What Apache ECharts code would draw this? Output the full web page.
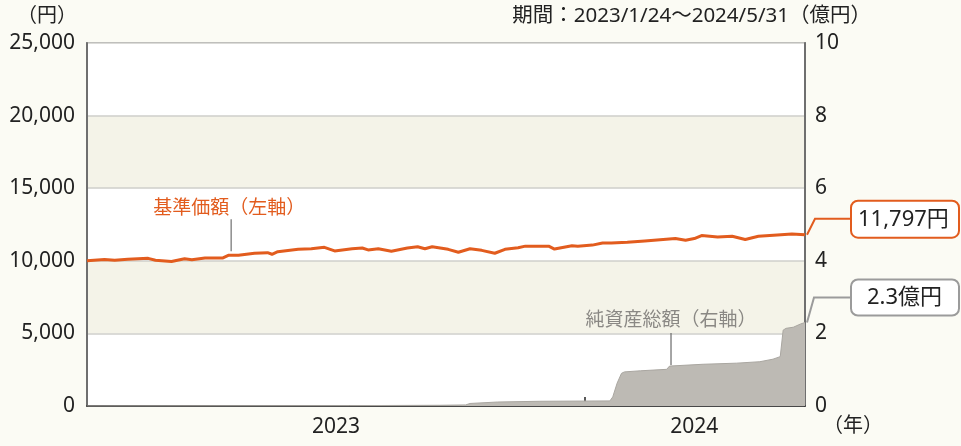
<!DOCTYPE html>
<html>
<head>
<meta charset="utf-8">
<script src="https://cdn.jsdelivr.net/npm/echarts@6/dist/echarts.min.js"></script>
<style>
  html, body { margin: 0; padding: 0; background: #fbfbf4; }
  #chart { width: 961px; height: 446px; }
</style>
</head>
<body>
<div id="chart"></div>
<script>
// 基準価額（円）
const navDates = [
  "2023-01-24", "2023-02-05", "2023-02-12", "2023-02-21", "2023-03-07", "2023-03-12",
  "2023-03-23", "2023-04-01", "2023-04-06", "2023-04-15", "2023-04-27", "2023-05-01",
  "2023-05-08", "2023-05-19", "2023-05-28", "2023-05-31", "2023-06-04", "2023-06-18",
  "2023-06-27", "2023-07-06", "2023-07-13", "2023-07-25", "2023-08-01", "2023-08-05",
  "2023-08-12", "2023-08-21", "2023-09-01", "2023-09-08", "2023-09-13", "2023-09-18",
  "2023-09-29", "2023-10-06", "2023-10-14", "2023-10-22", "2023-10-31", "2023-11-07",
  "2023-11-16", "2023-11-21", "2023-12-07", "2023-12-11", "2023-12-23", "2023-12-27",
  "2024-01-06", "2024-01-13", "2024-01-19", "2024-01-30", "2024-02-11", "2024-03-03",
  "2024-03-10", "2024-03-16", "2024-03-21", "2024-04-01", "2024-04-11", "2024-04-20",
  "2024-04-29", "2024-05-12", "2024-05-22", "2024-05-31"
];
const navValues = [
  10000, 10090, 10040, 10100, 10170, 10040,
  9950, 10140, 10080, 10190, 10190, 10380,
  10380, 10520, 10560, 10450, 10630, 10790,
  10830, 10930, 10680, 10830, 10880, 10750,
  10830, 10660, 10880, 10970, 10830, 10970,
  10790, 10590, 10830, 10720, 10520, 10790,
  10900, 11010, 11010, 10810, 11040, 11000,
  11080, 11220, 11220, 11270, 11370, 11530,
  11420, 11530, 11740, 11640, 11690, 11470,
  11690, 11780, 11850, 11797
];

// 純資産総額（億円）
const assetDates = [
  "2023-01-24", "2023-07-23", "2023-09-23", "2023-10-11", "2023-10-14", "2023-11-02",
  "2023-12-01", "2024-01-18", "2024-01-20", "2024-01-23", "2024-01-26", "2024-01-28",
  "2024-02-08", "2024-02-26", "2024-02-28", "2024-03-22", "2024-04-14", "2024-04-30",
  "2024-05-09", "2024-05-14", "2024-05-16", "2024-05-18", "2024-05-23", "2024-05-28",
  "2024-05-31"
];
const assetValues = [
  0.0, 0.01, 0.02, 0.03, 0.07, 0.11,
  0.13, 0.14, 0.25, 0.63, 0.9, 0.94,
  0.97, 1.01, 1.1, 1.15, 1.18, 1.22,
  1.29, 1.36, 2.09, 2.14, 2.17, 2.26,
  2.3
];

const periodStart = "2023-01-24";
const periodEnd = "2024-05-31";
const yearBoundary = ["2024-01-01"];
const yearLabelDates = ["2023-07-14", "2024-03-16"];

const leftMax = 25000, leftStep = 5000;
const rightMax = 10, rightStep = 2;

const FONT = '"Noto Sans", "Noto Sans CJK JP", sans-serif';
const ORANGE = "#e25c1e";
const GRAY_TXT = "#8a8884";

const toTime = (d) => {
  const p = d.split("-").map(Number);
  return new Date(p[0], p[1] - 1, p[2]).getTime();
};

const chart = echarts.init(document.getElementById("chart"));

const option = {
  animation: false,
  backgroundColor: "#fbfbf4",
  textStyle: { fontFamily: FONT },
  grid: {
    left: 87, right: 156, top: 43, bottom: 40,
    show: true,
    borderColor: "#6f6f6f",
    borderWidth: 1.5,
    backgroundColor: "#ffffff",
  },
  xAxis: {
    type: "value",
    min: toTime(periodStart),
    max: toTime(periodEnd),
    axisLine: { lineStyle: { color: "#222", width: 1.5 } },
    axisTick: {
      show: true,
      inside: true,
      length: 9,
      customValues: yearBoundary.map(toTime),
      lineStyle: { color: "#222", width: 1.5 },
    },
    axisLabel: {
      customValues: yearLabelDates.map(toTime),
      formatter: (v) => String(new Date(v).getFullYear()),
      color: "#222",
      fontSize: 21,
      margin: 11,
      fontFamily: FONT,
    },
    splitLine: { show: false },
  },
  yAxis: [
    {
      type: "value",
      min: 0, max: leftMax, interval: leftStep,
      axisLine: { show: true, lineStyle: { color: "#6f6f6f", width: 2 } },
      axisTick: { show: false },
      axisLabel: {
        color: "#222", fontSize: 21, margin: 12, fontFamily: FONT,
        formatter: (v) => v.toLocaleString("en-US"),
      },
      splitLine: { show: true, lineStyle: { color: "#cfcfcb", width: 1.5 } },
      splitArea: { show: true, areaStyle: { color: ["#ffffff", "#f4f3e8"] } },
    },
    {
      type: "value",
      min: 0, max: rightMax, interval: rightStep,
      position: "right",
      axisLine: { show: true, lineStyle: { color: "#6f6f6f", width: 2 } },
      axisTick: { show: false },
      axisLabel: { color: "#222", fontSize: 21, margin: 10, fontFamily: FONT },
      splitLine: { show: false },
    },
  ],
  series: [
    {
      name: "純資産総額",
      type: "line",
      yAxisIndex: 1,
      data: assetDates.map((d, i) => [toTime(d), assetValues[i]]),
      showSymbol: false,
      lineStyle: { color: "#a9a6a0", width: 1 },
      areaStyle: { color: "#bdbab4", opacity: 1 },
      z: 2,
    },
    {
      name: "基準価額",
      type: "line",
      yAxisIndex: 0,
      data: navDates.map((d, i) => [toTime(d), navValues[i]]),
      showSymbol: false,
      lineStyle: { color: ORANGE, width: 3 },
      z: 3,
    },
  ],
};

chart.setOption(option);

// 注記（引き出し線・吹き出し）
const px = (d, v, yi) => chart.convertToPixel({ xAxisIndex: 0, yAxisIndex: yi }, [toTime(d), v]);
const navEnd = px(navDates[navDates.length - 1], navValues[navValues.length - 1], 0);
const assetEnd = px(assetDates[assetDates.length - 1], assetValues[assetValues.length - 1], 1);
const navLead = px("2023-05-03", 10380, 0);
const assetLead = px("2024-02-29", 1.1, 1);

const boxX = 851, boxW = 108;

chart.setOption({
  graphic: [
    // 基準価額ラベル
    { type: "line", shape: { x1: navLead[0], y1: navLead[1] - 4, x2: navLead[0], y2: navLead[1] - 36 },
      style: { stroke: "#8c8c8c", lineWidth: 1.5 }, z: 10 },
    { type: "text", x: navLead[0] - 2, y: navLead[1] - 47,
      style: { text: "基準価額（左軸）", fill: ORANGE, font: "19px " + FONT, align: "center", verticalAlign: "middle", textAlign: "center", textVerticalAlign: "middle" }, z: 10 },
    // 純資産総額ラベル
    { type: "line", shape: { x1: assetLead[0], y1: assetLead[1] - 1, x2: assetLead[0], y2: assetLead[1] - 33 },
      style: { stroke: "#6a6a6a", lineWidth: 1.2 }, z: 10 },
    { type: "text", x: assetLead[0], y: assetLead[1] - 45,
      style: { text: "純資産総額（右軸）", fill: GRAY_TXT, font: "19px " + FONT, align: "center", verticalAlign: "middle", textAlign: "center", textVerticalAlign: "middle" }, z: 10 },
    // 基準価額吹き出し
    { type: "polyline", shape: { points: [[navEnd[0] + 2, navEnd[1]], [navEnd[0] + 10, navEnd[1] - 16], [boxX, navEnd[1] - 16]] },
      style: { stroke: ORANGE, lineWidth: 2, fill: null }, z: 10 },
    { type: "rect", shape: { x: boxX, y: navEnd[1] - 34, width: boxW, height: 37, r: 7 },
      style: { fill: "#ffffff", stroke: ORANGE, lineWidth: 2 }, z: 11 },
    { type: "text", x: boxX + 7, y: navEnd[1] - 15,
      style: { text: "11,797円", fill: "#222", font: "22px " + FONT, verticalAlign: "middle", textVerticalAlign: "middle" }, z: 12 },
    // 純資産総額吹き出し
    { type: "polyline", shape: { points: [[assetEnd[0] + 2, assetEnd[1]], [assetEnd[0] + 9, assetEnd[1] - 25], [boxX, assetEnd[1] - 25]] },
      style: { stroke: "#9b9b9b", lineWidth: 2, fill: null }, z: 10 },
    { type: "rect", shape: { x: boxX, y: assetEnd[1] - 43, width: boxW, height: 36, r: 7 },
      style: { fill: "#ffffff", stroke: "#9b9b9b", lineWidth: 2 }, z: 11 },
    { type: "text", x: boxX + 16, y: assetEnd[1] - 25,
      style: { text: "2.3億円", fill: "#222", font: "22px " + FONT, verticalAlign: "middle", textVerticalAlign: "middle" }, z: 12 },
    // 単位・期間
    { type: "text", right: 884, top: 6,
      style: { text: "（円）", fill: "#222", font: "20px " + FONT }, z: 10 },
    { type: "text", right: 90, top: 6,
      style: { text: "期間：2023/1/24～2024/5/31（億円）", fill: "#222", font: "20.5px " + FONT }, z: 10 },
    { type: "text", left: 823, top: 416,
      style: { text: "（年）", fill: "#222", font: "20px " + FONT }, z: 10 },
  ],
});

window.addEventListener("resize", () => chart.resize());
</script>
</body>
</html>
